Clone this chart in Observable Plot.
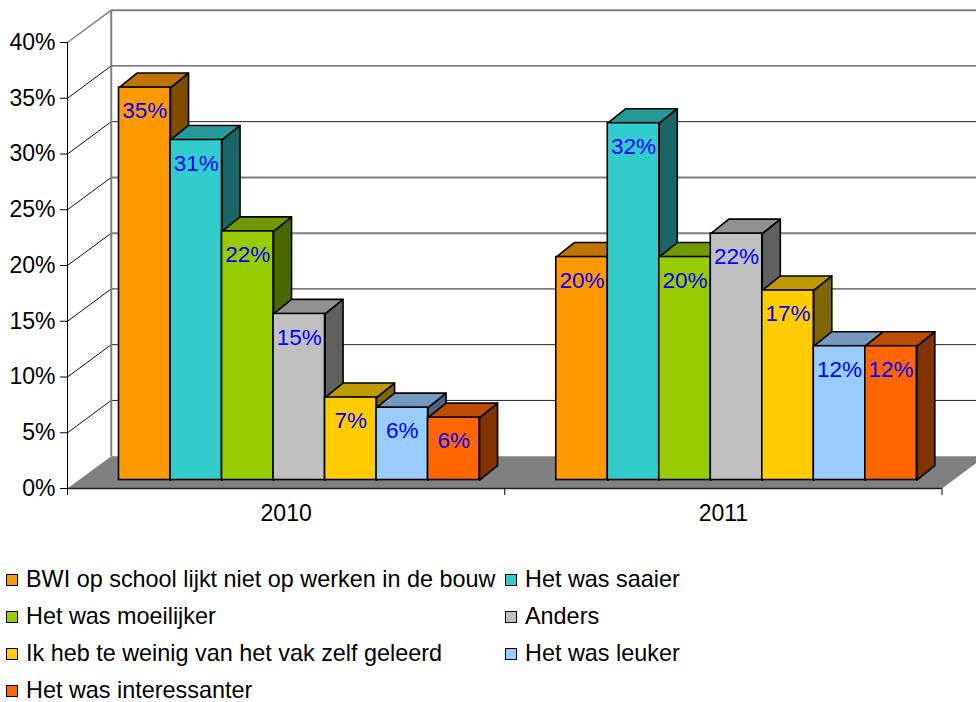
<!DOCTYPE html>
<html>
<head>
<meta charset="utf-8">
<script src="https://cdn.jsdelivr.net/npm/d3@7"></script>
<script src="https://cdn.jsdelivr.net/npm/@observablehq/plot@0.6"></script>
<style>
  html, body { margin: 0; padding: 0; background: #fff; overflow: hidden; }
  #legend {
    display: grid; grid-template-columns: 499px auto; grid-auto-rows: 37px;
    margin-top: 11px; padding-left: 6px;
    font: 23.4px "Liberation Sans", Arial, sans-serif; color: #000;
  }
  #legend .item { display: flex; align-items: center; white-space: nowrap; }
  #legend .swatch { width: 10px; height: 10px; border: 1.5px solid #000; margin-right: 8px; flex: none; }
</style>
</head>
<body>
<div id="chart"></div>
<div id="legend"></div>
<script>
const years = ["2010", "2011"];
const seriesNames = [
  "BWI op school lijkt niet op werken in de bouw",
  "Het was saaier",
  "Het was moeilijker",
  "Anders",
  "Ik heb te weinig van het vak zelf geleerd",
  "Het was leuker",
  "Het was interessanter"
];
const seriesColors = ["#FF9900", "#33CCCC", "#99CC00", "#C0C0C0", "#FFCC00", "#99CCFF", "#FF6600"];
const values2010 = [35.2, 30.5, 22.3, 14.9, 7.4, 6.49, 5.6];
const values2011 = [20, 32, 20, 22.1, 17, 12, 12];
const yTicks = [0, 5, 10, 15, 20, 25, 30, 35, 40];

// Depth of the fake 3D box, in scale units (x: categories, y: percent).
const wallDx = 0.1, wallDy = 2.9;
const barLead = 0.1178, barW = 0.1178, barDx = 0.0412, barDy = 1.3, barFloor = 0.76;
const labelDrop = 23.5;
const greyGridLevels = new Set([20, 25, 40]);

const shade = (c, k) => { const r = d3.rgb(c); return d3.rgb(r.r * k, r.g * k, r.b * k).formatHex(); };

const bars = years.flatMap((year, c) => seriesNames.map((name, s) => {
  const value = (c === 0 ? values2010 : values2011)[s];
  const x1 = c + barLead + s * barW;
  return { id: year + s, year, name, value, color: seriesColors[s], x1, x2: x1 + barW, y1: barFloor, y2: value + barFloor };
}));

const tops = bars.flatMap(b => [[b.x1, b.y2], [b.x2, b.y2], [b.x2 + barDx, b.y2 + barDy], [b.x1 + barDx, b.y2 + barDy], [b.x1, b.y2]]
  .map(([x, y]) => ({ id: b.id, x, y, fill: shade(b.color, 0.75) })));
const sides = bars.flatMap(b => [[b.x2, b.y1], [b.x2 + barDx, b.y1 + barDy], [b.x2 + barDx, b.y2 + barDy], [b.x2, b.y2], [b.x2, b.y1]]
  .map(([x, y]) => ({ id: b.id, x, y, fill: shade(b.color, 0.5) })));
const floor = [[0, 0], [wallDx, wallDy], [2 + wallDx, wallDy], [2, 0], [0, 0]].map(([x, y]) => ({ x, y }));
const wallLevels = yTicks.filter(d => d > 0);

const chart = Plot.plot({
  width: 976, height: 550,
  marginLeft: 67, marginRight: 34.5, marginTop: 42, marginBottom: 62,
  style: { fontFamily: '"Liberation Sans", Arial, sans-serif', background: "#fff", color: "#000" },
  x: { domain: [0, 2] },
  y: { domain: [0, 40] },
  color: { type: "identity" },
  marks: [
    Plot.line(floor, { x: "x", y: "y", fill: "#808080", stroke: "none" }),
    Plot.link(wallLevels.filter(d => !greyGridLevels.has(d)), { x1: wallDx, x2: 2 + wallDx, y1: d => d + wallDy, y2: d => d + wallDy, stroke: "#222", strokeWidth: 1 }),
    Plot.link([...greyGridLevels], { x1: wallDx, x2: 2 + wallDx, y1: d => d + wallDy, y2: d => d + wallDy, stroke: "#808080", strokeWidth: 2 }),
    Plot.link(wallLevels.filter(d => d < 40), { x1: 0, x2: wallDx, y1: d => d, y2: d => d + wallDy, stroke: "#111", strokeWidth: 1 }),
    Plot.link([40], { x1: 0, x2: wallDx, y1: d => d, y2: d => d + wallDy, stroke: "#808080", strokeWidth: 1.5 }),
    Plot.link([0], { x1: wallDx, x2: wallDx, y1: wallDy, y2: 40 + wallDy, stroke: "#808080", strokeWidth: 2 }),
    Plot.line(sides, { x: "x", y: "y", z: "id", fill: "fill", stroke: "#000", strokeWidth: 1.6 }),
    Plot.line(tops, { x: "x", y: "y", z: "id", fill: "fill", stroke: "#000", strokeWidth: 1.6 }),
    Plot.rect(bars, { x1: "x1", x2: "x2", y1: "y1", y2: "y2", fill: "color", stroke: "#000", strokeWidth: 1.6 }),
    Plot.text(bars, { x: d => (d.x1 + d.x2) / 2, y: "y2", dy: labelDrop, text: d => Math.round(d.value) + "%", fill: "#0000FF", fontSize: 22.5 }),
    Plot.ruleX([0], { y1: 0, y2: 40, stroke: "#000" }),
    Plot.ruleY([0], { x1: 0, x2: 2, stroke: "#222", strokeWidth: 1.5 }),
    Plot.axisY({ ticks: yTicks, tickFormat: d => d + "%", tickSize: 7, tickPadding: 5, fontSize: 23, stroke: "#000", fill: "#000" }),
    Plot.axisX({ ticks: [0, 1, 2], tickFormat: () => "", tickSize: 7, stroke: "#000" }),
    Plot.axisX({ ticks: [0.5, 1.5], tickSize: 0, tickPadding: 16.5, fontSize: 23, fill: "#000", tickFormat: d => years[Math.floor(d)] })
  ]
});
document.getElementById("chart").appendChild(chart);

const legend = d3.select("#legend");
seriesNames.forEach((name, i) => {
  const item = legend.append("div").attr("class", "item");
  item.append("span").attr("class", "swatch").style("background", seriesColors[i]);
  item.append("span").text(name);
});
</script>
</body>
</html>
